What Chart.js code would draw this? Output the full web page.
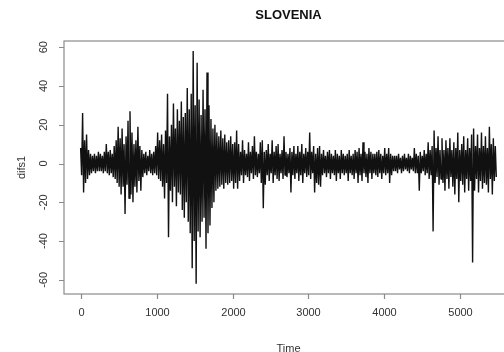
<!DOCTYPE html>
<html>
<head>
<meta charset="utf-8">
<script src="https://cdn.jsdelivr.net/npm/chart.js@4/dist/chart.umd.min.js"></script>
<style>
  html, body { margin: 0; padding: 0; background: #fff; overflow: hidden; }
  #wrap { width: 504px; height: 352px; overflow: hidden; position: relative; }
  canvas { display: block; }
</style>
</head>
<body>
<div id="wrap"><canvas id="c" width="530" height="352"></canvas></div>
<script>
// Daily differenced series for Slovenia: for each column of 13+13 time steps,
// the highest and the lowest value reached in that stretch.
const timeStep = 13;            // time units between consecutive drawn points
const seriesHigh = [
  8, 26, 12, 15, 7, 5, 4, 5, 4, 6,
  5, 4, 6, 10, 6, 7, 5, 9, 12, 19,
  13, 18, 10, 14, 22, 27, 16, 10, 12, 19,
  9, 7, 5, 6, 4, 7, 5, 6, 9, 16,
  12, 15, 10, 17, 36, 14, 20, 31, 18, 28,
  22, 32, 24, 26, 39, 28, 36, 58, 30, 52,
  33, 25, 38, 28, 47, 30, 23, 18, 20, 16,
  14, 17, 13, 15, 11, 12, 14, 10, 11, 17,
  10, 6, 12, 7, 5, 11, 6, 9, 14, 6,
  5, 11, 12, 6, 7, 10, 5, 12, 6, 9,
  10, 5, 7, 14, 6, 5, 8, 6, 9, 5,
  9, 6, 10, 5, 8, 6, 16, 6, 9, 5,
  8, 9, 5, 7, 4, 6, 7, 5, 4, 7,
  5, 4, 7, 5, 4, 5, 7, 4, 5, 7,
  6, 8, 5, 11, 6, 5, 8, 6, 5, 5,
  6, 7, 5, 4, 8, 5, 8, 5, 4, 4,
  4, 5, 3, 4, 5, 3, 5, 4, 3, 8,
  5, 4, 6, 4, 7, 5, 11, 7, 9, 17,
  8, 14, 7, 13, 7, 12, 8, 13, 7, 11,
  8, 16, 7, 10, 14, 7, 13, 8, 15, 18,
  9, 15, 8, 16, 9, 14, 8, 19, 10, 13, 9
];
const seriesLow = [
  -6, -15, -10, -8, -6, -5, -4, -5, -4, -4,
  -4, -5, -4, -5, -6, -5, -7, -8, -10, -12,
  -16, -12, -26, -11, -18, -16, -20, -12, -15, -9,
  -14, -7, -5, -6, -4, -5, -6, -5, -6, -8,
  -9, -12, -18, -10, -38, -14, -20, -12, -22, -15,
  -16, -24, -28, -20, -30, -36, -54, -40, -62, -35,
  -38, -30, -28, -44, -36, -32, -23, -20, -14, -13,
  -12, -11, -13, -10, -11, -10, -9, -13, -10, -13,
  -9, -6, -10, -6, -7, -9, -5, -8, -6, -7,
  -5, -10, -23, -11, -6, -9, -5, -10, -6, -8,
  -9, -5, -8, -6, -7, -5, -15, -6, -8, -5,
  -9, -6, -10, -5, -7, -6, -8, -5, -15, -10,
  -11, -12, -6, -5, -7, -5, -8, -5, -6, -9,
  -5, -8, -5, -6, -5, -9, -5, -6, -8, -5,
  -10, -6, -9, -5, -7, -10, -5, -8, -5, -6,
  -7, -5, -8, -5, -6, -5, -10, -6, -4, -4,
  -5, -3, -5, -4, -3, -4, -5, -3, -4, -5,
  -5, -14, -5, -4, -6, -5, -8, -6, -35, -10,
  -7, -11, -8, -10, -14, -8, -13, -7, -12, -16,
  -8, -20, -9, -11, -15, -8, -14, -9, -51, -14,
  -8, -15, -9, -13, -10, -11, -15, -8, -16, -9, -7
];
const xTicks = [0, 1000, 2000, 3000, 4000, 5000];
const yTicks = [-60, -40, -20, 0, 20, 40, 60];
const titleText = 'SLOVENIA';
const xTitle = 'Time';
const yTitle = 'difs1';

// Interleave highs and lows so the line sweeps up and down each column.
const points = [];
for (let k = 0; k < seriesHigh.length; k++) {
  points.push({ x: (2 * k) * timeStep, y: seriesHigh[k] });
  points.push({ x: (2 * k + 1) * timeStep, y: seriesLow[k] });
}

const axisColor = '#8a8a8a';
const textColor = '#333';
const font = '"Liberation Sans", Arial, sans-serif';

const framePlugin = {
  id: 'frame',
  afterDraw(chart) {
    const { ctx, chartArea: a, scales } = chart;
    const xs = scales.x, ys = scales.y;
    ctx.save();
    ctx.strokeStyle = axisColor;
    ctx.lineWidth = 1.2;
    ctx.strokeRect(a.left, a.top, a.right - a.left, a.bottom - a.top);

    // x ticks and labels
    ctx.fillStyle = textColor;
    ctx.font = '11px ' + font;
    ctx.textAlign = 'center';
    ctx.textBaseline = 'middle';
    ctx.beginPath();
    for (const v of xTicks) {
      const px = Math.round(xs.getPixelForValue(v)) + 0.5;
      ctx.moveTo(px, a.bottom);
      ctx.lineTo(px, a.bottom + 5);
      ctx.fillText(String(v), px, 313);
    }
    // y ticks
    for (const v of yTicks) {
      const py = Math.round(ys.getPixelForValue(v)) + 0.5;
      ctx.moveTo(a.left, py);
      ctx.lineTo(a.left - 5, py);
    }
    ctx.stroke();
    // y labels, rotated
    for (const v of yTicks) {
      const py = ys.getPixelForValue(v);
      ctx.save();
      ctx.translate(44, py);
      ctx.rotate(-Math.PI / 2);
      ctx.fillText(String(v), 0, 0);
      ctx.restore();
    }
    // axis titles
    ctx.fillText(xTitle, (a.left + a.right) / 2, 349);
    ctx.save();
    ctx.translate(22, (a.top + a.bottom) / 2);
    ctx.rotate(-Math.PI / 2);
    ctx.fillText(yTitle, 0, 0);
    ctx.restore();
    // main title
    ctx.font = 'bold 13px ' + font;
    ctx.fillStyle = '#111';
    ctx.fillText(titleText, (a.left + a.right) / 2, 15);
    ctx.restore();
  }
};

new Chart(document.getElementById('c'), {
  type: 'line',
  data: {
    datasets: [{
      data: points,
      borderColor: '#111',
      borderWidth: 1.4,
      borderJoinStyle: 'bevel',
      pointRadius: 0,
      tension: 0,
      fill: false
    }]
  },
  options: {
    responsive: false,
    animation: false,
    events: [],
    layout: { padding: { left: 64, right: 17, top: 41, bottom: 58 } },
    plugins: { legend: { display: false }, tooltip: { enabled: false }, title: { display: false } },
    scales: {
      x: { type: 'linear', min: -219, max: 5693, display: false },
      y: { type: 'linear', min: -67.3, max: 63.2, display: false }
    }
  },
  plugins: [framePlugin]
});
</script>
</body>
</html>
